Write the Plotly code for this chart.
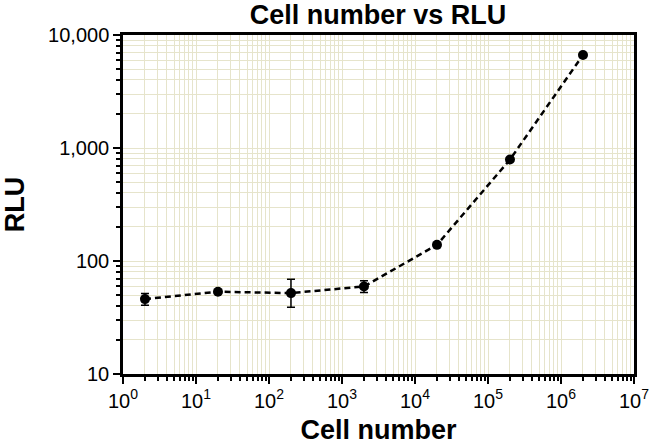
import plotly.graph_objects as go

cells = [2, 20, 200, 2000, 20000, 200000, 2000000]
rlu = [46, 53.5, 52, 59.5, 139, 790, 6650]
err_plus = [5.5, 0, 17, 7.5, 0, 0, 0]
err_minus = [5.5, 0, 13, 7, 0, 0, 0]

x_tickvals = [1, 10, 100, 1000, 10000, 100000, 1000000, 10000000]
x_ticktext = ["10<sup>0</sup>", "10<sup>1</sup>", "10<sup>2</sup>", "10<sup>3</sup>",
              "10<sup>4</sup>", "10<sup>5</sup>", "10<sup>6</sup>", "10<sup>7</sup>"]
y_tickvals = [10, 100, 1000, 10000]
y_ticktext = ["10", "100", "1,000", "10,000"]

grid = "#e6e4cb"
font = "Liberation Sans, Arial, sans-serif"

fig = go.Figure()
fig.add_trace(go.Scatter(
    x=cells, y=rlu, mode="lines+markers",
    line=dict(color="black", width=2.5, dash="6px,4px"),
    marker=dict(color="black", size=10),
    error_y=dict(type="data", symmetric=False, array=err_plus, arrayminus=err_minus,
                 color="black", thickness=1.5, width=4),
    showlegend=False,
))

axis_common = dict(
    type="log", showline=True, linecolor="black", linewidth=2.5, mirror=True,
    ticks="outside", ticklen=7, tickwidth=2, tickcolor="black",
    showgrid=True, gridcolor=grid, gridwidth=1, zeroline=False, automargin=False,
    tickfont=dict(family=font, size=20, color="black"),
)
minor_common = dict(dtick="D1", ticks="outside", ticklen=4, tickwidth=1.5, tickcolor="black",
                    showgrid=True, gridcolor=grid, gridwidth=1)

fig.update_xaxes(
    **axis_common,
    range=[0, 7], tickvals=x_tickvals, ticktext=x_ticktext,
    minor=minor_common,
    title=dict(text="<b>Cell number</b>", font=dict(family=font, size=27, color="black"), standoff=12),
)
fig.update_yaxes(
    **axis_common,
    range=[1, 4], tickvals=y_tickvals, ticktext=y_ticktext,
    minor=minor_common,
    title=dict(text="<b>RLU</b>", font=dict(family=font, size=27, color="black"), standoff=21),
)

fig.update_layout(
    width=650, height=445,
    margin=dict(l=123, r=16, t=35, b=71),
    paper_bgcolor="white", plot_bgcolor="white",
    title=dict(text="<b>Cell number vs RLU</b>", x=0.5815, xanchor="center",
               y=1 - 15 / 445, yanchor="middle",
               font=dict(family=font, size=27, color="black")),
)

fig.write_html("out.html", config={"displayModeBar": False},
               post_script="document.body.style.margin='0';")
